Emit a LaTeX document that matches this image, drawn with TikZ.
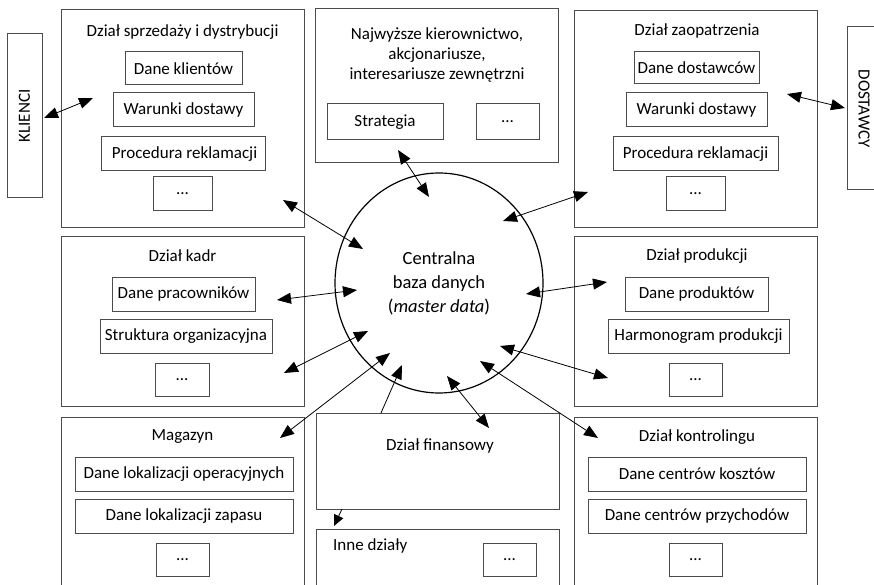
\documentclass[tikz,border=0pt]{standalone}
\usepackage{fontspec}
\setmainfont{Carlito}
\usetikzlibrary{arrows.meta,shapes.geometric}
\begin{document}
\begin{tikzpicture}[x=1pt,y=-1pt,
  >={Triangle[length=14pt,width=11pt]},
  obox/.style={draw=black!70, line width=1pt, inner sep=0pt},
  ibox/.style={draw=black!70, line width=1pt, inner sep=0pt, font=\fontsize{17}{20}\selectfont},
  ttl/.style={inner sep=0pt, font=\fontsize{17}{20}\selectfont, align=center},
  link/.style={line width=0.8pt, <->},
  onelink/.style={line width=0.8pt, ->}]
\useasboundingbox (0,0) rectangle (874,585);
\clip (0,0) rectangle (874,585);

% --- outer department boxes ---
\node[obox, minimum width=243, minimum height=217] (sales) at (182.5,118.5) {};
\node[obox, minimum width=243, minimum height=154] (mgmt)  at (436.5,86) {};
\node[obox, minimum width=243, minimum height=216] (supp)  at (695.5,119) {};
\node[obox, minimum width=243, minimum height=170] (hr)    at (182.5,321) {};
\node[obox, minimum width=243, minimum height=170] (prod)  at (695.5,321) {};
\node[obox, minimum width=243, minimum height=190] (store) at (182.5,512) {};
\node[obox, minimum width=243, minimum height=190] (ctrl)  at (695.5,512) {};
\node[obox, minimum width=243, minimum height=96]  (fin)   at (437.5,461) {};
\node[obox, minimum width=243, minimum height=80]  (other) at (437.5,569) {};

% --- external partners ---
\node[obox, rotate=90, minimum width=164, minimum height=35, font=\fontsize{17}{20}\selectfont]
  (cust) at (24.5,116) {KLIENCI};
\node[obox, rotate=-90, minimum width=163, minimum height=34, font=\fontsize{17}{20}\selectfont]
  (vend) at (864,108.5) {DOSTAWCY};

% --- titles ---
\node[ttl] (tsales) at (182.5,32) {Dział sprzedaży i dystrybucji};
\node[ttl] (tmgmt)  at (437,55) {Najwyższe kierownictwo,\\akcjonariusze,\\interesariusze zewnętrzni};
\node[ttl] (tsupp)  at (697,31) {Dział zaopatrzenia};
\node[ttl] (thr)    at (182.5,256) {Dział kadr};
\node[ttl] (tprod)  at (697,256) {Dział produkcji};
\node[ttl] (tstore) at (182.5,437) {Magazyn};
\node[ttl] (tctrl)  at (697,437) {Dział kontrolingu};
\node[ttl] (tfin)   at (440,446) {Dział finansowy};
\node[ttl, anchor=west] (tother) at (333,546) {Inne działy};

% --- data items ---
\node[ibox, minimum width=117, minimum height=33] (s1) at (183.5,68.5) {Dane klientów};
\node[ibox, minimum width=141, minimum height=34] (s2) at (183.5,110) {Warunki dostawy};
\node[ibox, minimum width=164, minimum height=34] (s3) at (183,154) {\hspace{3pt}Procedura reklamacji};
\node[ibox, minimum width=59,  minimum height=34] (s4) at (182.5,194) {...};

\node[ibox, minimum width=116, minimum height=36] (m1) at (385,122) {Strategia};
\node[ibox, minimum width=63,  minimum height=36] (m2) at (507.5,122) {...};

\node[ibox, minimum width=125, minimum height=32] (z1) at (696.5,68) {Dane dostawców};
\node[ibox, minimum width=141, minimum height=34] (z2) at (696.5,110) {Warunki dostawy};
\node[ibox, minimum width=165, minimum height=34] (z3) at (695.5,154) {Procedura reklamacji};
\node[ibox, minimum width=59,  minimum height=34] (z4) at (695.5,194) {...};

\node[ibox, minimum width=143, minimum height=34] (h1) at (183.5,294) {Dane pracowników};
\node[ibox, minimum width=172, minimum height=34] (h2) at (186,336) {Struktura organizacyjna};
\node[ibox, minimum width=54,  minimum height=33] (h3) at (182,379.5) {...};

\node[ibox, minimum width=143, minimum height=34] (p1) at (696.5,294) {Dane produktów};
\node[ibox, minimum width=181, minimum height=34] (p2) at (698.5,336) {Harmonogram produkcji};
\node[ibox, minimum width=53,  minimum height=33] (p3) at (695.5,379.5) {...};

\node[ibox, minimum width=218, minimum height=34] (w1) at (184,474) {Dane lokalizacji operacyjnych};
\node[ibox, minimum width=218, minimum height=34] (w2) at (184,516) {Dane lokalizacji zapasu};
\node[ibox, minimum width=53,  minimum height=33] (w3) at (182.5,559.5) {...};

\node[ibox, minimum width=218, minimum height=34] (c1) at (697,474) {Dane centrów kosztów};
\node[ibox, minimum width=218, minimum height=34] (c2) at (697,516) {Dane centrów przychodów};
\node[ibox, minimum width=53,  minimum height=33] (c3) at (695.5,559.5) {...};

\node[ibox, minimum width=53,  minimum height=33] (o1) at (509.5,559.5) {...};

% --- central database ---
\node[draw=black, line width=1.2pt, ellipse, minimum width=208, minimum height=220,
      inner sep=0pt, align=center, font=\fontsize{18.5}{24}\selectfont]
  (db) at (439,283) {Centralna\\baza danych\\(\textit{master data})};

% --- arrow end points ---
\coordinate (a1) at (44,118);   \coordinate (b1) at (93,98);
\coordinate (a2) at (283,200);  \coordinate (b2) at (363,249);
\coordinate (a3) at (398,150);  \coordinate (b3) at (429,197);
\coordinate (a4) at (588,192);  \coordinate (b4) at (503,221);
\coordinate (a5) at (787,94);   \coordinate (b5) at (845,108);
\coordinate (a6) at (277,300);  \coordinate (b6) at (357,290);
\coordinate (a7) at (284,373);  \coordinate (b7) at (368,331);
\coordinate (a8) at (607,282);  \coordinate (b8) at (526,294);
\coordinate (a9) at (608,378);  \coordinate (b9) at (500,346);
\coordinate (a10) at (280,438); \coordinate (b10) at (390,353);
\coordinate (a11) at (381,413); \coordinate (b11) at (402,365);
\coordinate (a12) at (489,428); \coordinate (b12) at (447,376);
\coordinate (a13) at (598,438); \coordinate (b13) at (480,361);
\coordinate (a14) at (342,509); \coordinate (b14) at (334,526);

% --- connectors ---
\draw[link] (a1) -- (b1);
\draw[link] (a2) -- (b2);
\draw[link] (a3) -- (b3);
\draw[link] (a4) -- (b4);
\draw[link] (a5) -- (b5);
\draw[link] (a6) -- (b6);
\draw[link] (a7) -- (b7);
\draw[link] (a8) -- (b8);
\draw[link] (a9) -- (b9);
\draw[link] (a10) -- (b10);
\draw[onelink] (a11) -- (b11);
\draw[link] (a12) -- (b12);
\draw[link] (a13) -- (b13);
\draw[onelink, >={Triangle[length=11pt,width=10pt]}] (a14) -- (b14);
\end{tikzpicture}
\end{document}
